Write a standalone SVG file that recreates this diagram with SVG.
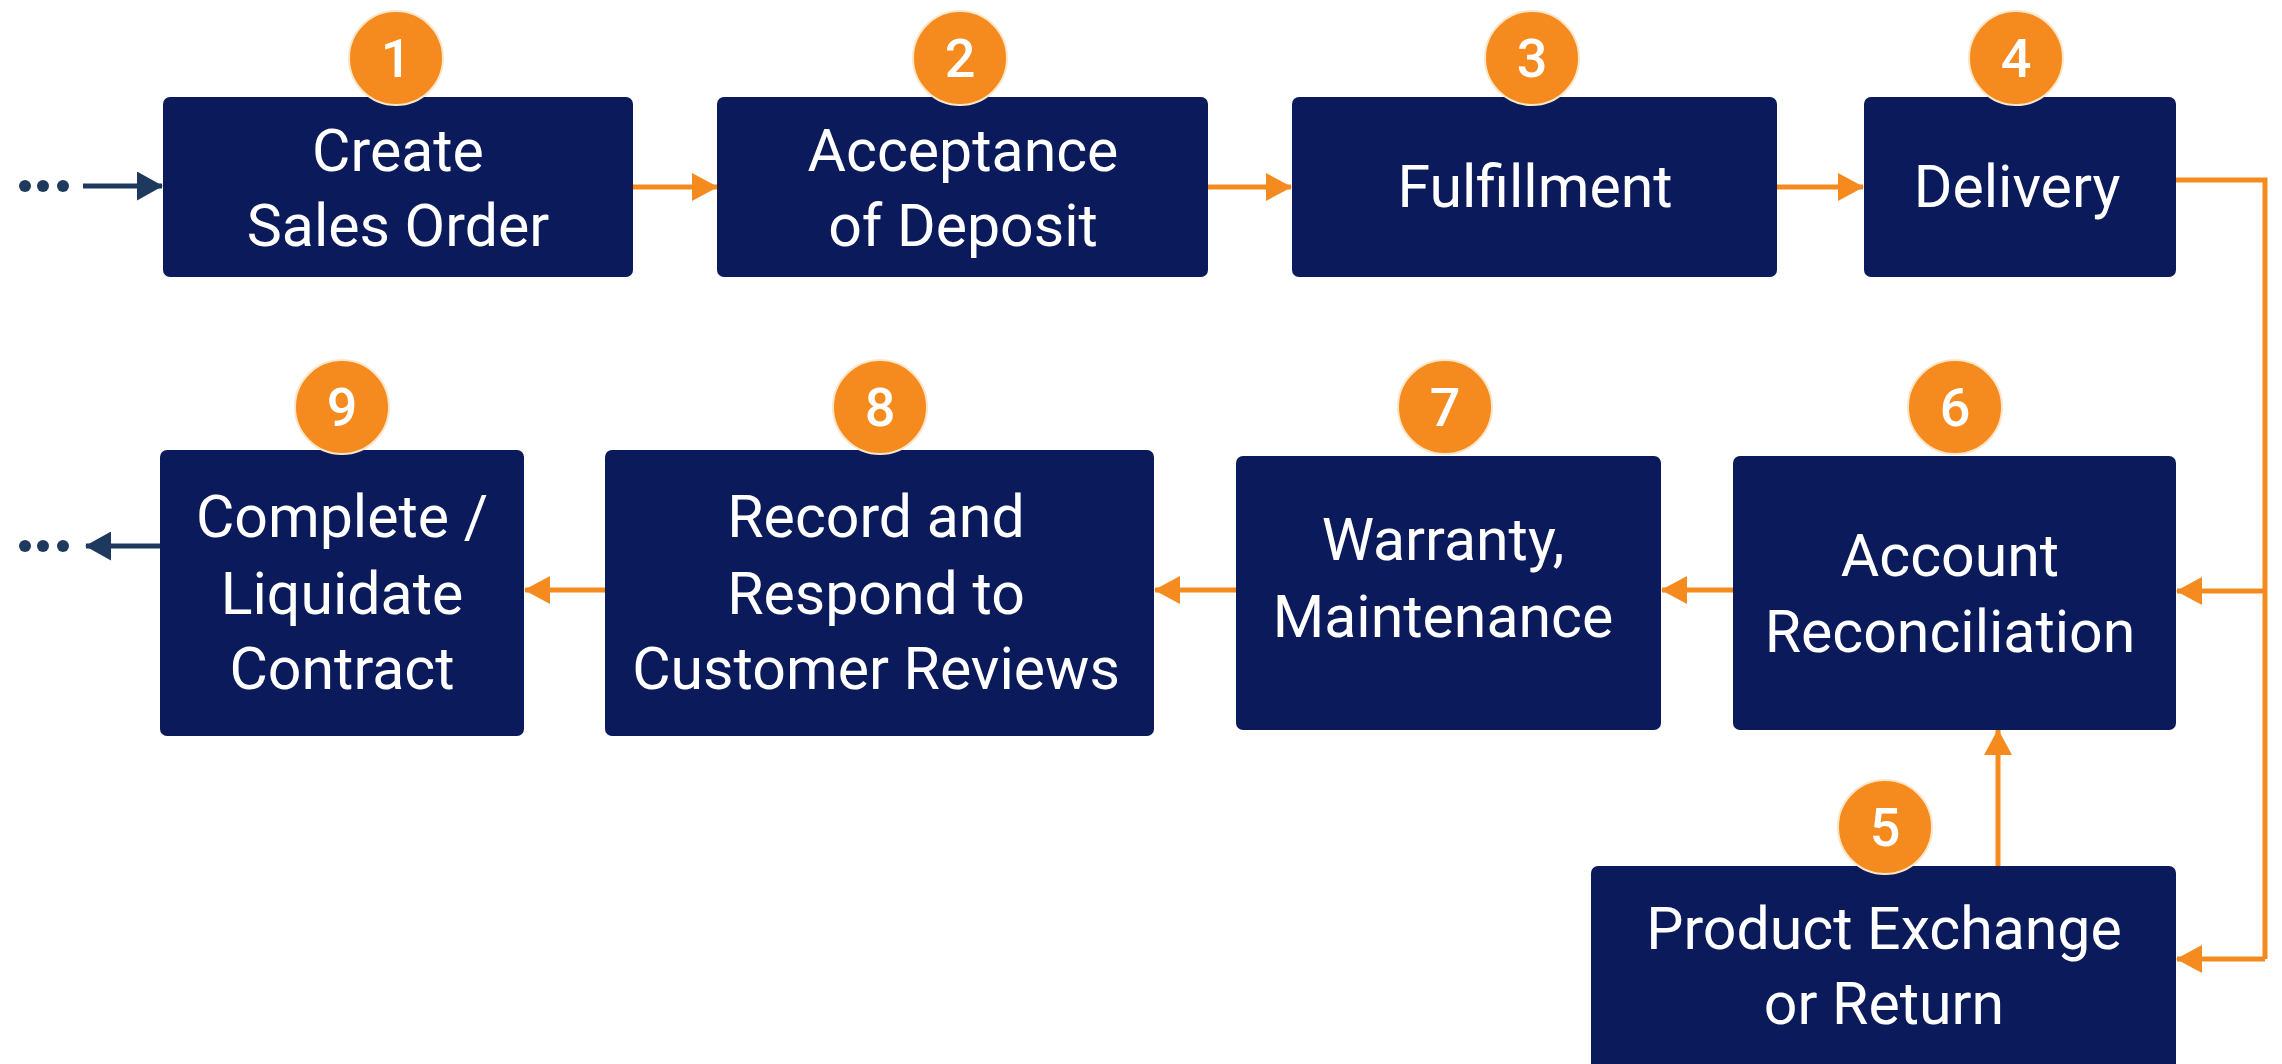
<svg xmlns="http://www.w3.org/2000/svg" width="2282" height="1064" viewBox="0 0 2282 1064">
<style>
.box{fill:#0b1a5b}
.lbl{font-family:Roboto,"Liberation Sans",sans-serif;font-size:59px;fill:#ffffff;text-anchor:middle}
.num{font-family:Roboto,"Liberation Sans",sans-serif;font-size:54px;font-weight:500;fill:#ffffff;text-anchor:middle}
.badge{fill:#f58a1f;stroke:#fde6c8;stroke-width:2}
.o{stroke:#f58a1f;stroke-width:5;fill:none}
.d{stroke:#1d3a5e;stroke-width:5;fill:none}
.dot{fill:#1d3a5e}
</style>
<defs>
<marker id="ao" markerWidth="26" markerHeight="28" refX="25" refY="14" orient="auto" markerUnits="userSpaceOnUse" viewBox="0 0 26 28">
<path d="M0,0 L26,14 L0,28 Z" fill="#f58a1f"/>
</marker>
<marker id="ad" markerWidth="26" markerHeight="29" refX="25" refY="14.5" orient="auto" markerUnits="userSpaceOnUse" viewBox="0 0 26 29">
<path d="M0,0 L26,14.5 L0,29 Z" fill="#1d3a5e"/>
</marker>
</defs>
<g id="connectors">
<circle class="dot" cx="25" cy="186" r="6"/><circle class="dot" cx="43" cy="186" r="6"/><circle class="dot" cx="63" cy="186" r="6"/>
<path class="d" d="M83,186 H162" marker-end="url(#ad)"/>
<path class="o" d="M633,187 H717" marker-end="url(#ao)"/>
<path class="o" d="M1208,187 H1291" marker-end="url(#ao)"/>
<path class="o" d="M1777,187 H1863" marker-end="url(#ao)"/>
<path class="o" d="M2176,180 H2265 V959"/>
<path class="o" d="M2265,591 H2177" marker-end="url(#ao)"/>
<path class="o" d="M2265,959 H2177" marker-end="url(#ao)"/>
<path class="o" d="M1998,866 V730" marker-end="url(#ao)"/>
<path class="o" d="M1733,590 H1662" marker-end="url(#ao)"/>
<path class="o" d="M1236,590 H1155" marker-end="url(#ao)"/>
<path class="o" d="M605,590 H525" marker-end="url(#ao)"/>
<path class="d" d="M160,546 H86" marker-end="url(#ad)"/>
<circle class="dot" cx="25" cy="546" r="6"/><circle class="dot" cx="43" cy="546" r="6"/><circle class="dot" cx="63" cy="546" r="6"/>
</g>
<g id="node1">
<rect class="box" x="163" y="97" width="470" height="180" rx="7"/>
<text class="lbl" x="398" y="171">Create</text>
<text class="lbl" x="398" y="246">Sales Order</text>
<circle class="badge" cx="396" cy="58" r="47"/>
<text class="num" x="396" y="77">1</text>
</g>
<g id="node2">
<rect class="box" x="717" y="97" width="491" height="180" rx="7"/>
<text class="lbl" x="963" y="171">Acceptance</text>
<text class="lbl" x="963" y="246">of Deposit</text>
<circle class="badge" cx="960" cy="58" r="47"/>
<text class="num" x="960" y="77">2</text>
</g>
<g id="node3">
<rect class="box" x="1292" y="97" width="485" height="180" rx="7"/>
<text class="lbl" x="1535" y="207">Fulfillment</text>
<circle class="badge" cx="1532" cy="58" r="47"/>
<text class="num" x="1532" y="77">3</text>
</g>
<g id="node4">
<rect class="box" x="1864" y="97" width="312" height="180" rx="7"/>
<text class="lbl" x="2017" y="207">Delivery</text>
<circle class="badge" cx="2016" cy="58" r="47"/>
<text class="num" x="2016" y="77">4</text>
</g>
<g id="node5">
<rect class="box" x="1591" y="866" width="585" height="210" rx="7"/>
<text class="lbl" x="1884" y="949">Product Exchange</text>
<text class="lbl" x="1884" y="1024">or Return</text>
<circle class="badge" cx="1885" cy="827" r="47"/>
<text class="num" x="1885" y="846">5</text>
</g>
<g id="node6">
<rect class="box" x="1733" y="456" width="443" height="274" rx="7"/>
<text class="lbl" x="1950" y="576">Account</text>
<text class="lbl" x="1950" y="652">Reconciliation</text>
<circle class="badge" cx="1955" cy="407" r="47"/>
<text class="num" x="1955" y="426">6</text>
</g>
<g id="node7">
<rect class="box" x="1236" y="456" width="425" height="274" rx="7"/>
<text class="lbl" x="1443" y="560">Warranty,</text>
<text class="lbl" x="1443" y="637">Maintenance</text>
<circle class="badge" cx="1445" cy="407" r="47"/>
<text class="num" x="1445" y="426">7</text>
</g>
<g id="node8">
<rect class="box" x="605" y="450" width="549" height="286" rx="7"/>
<text class="lbl" x="876" y="537">Record and</text>
<text class="lbl" x="876" y="614">Respond to</text>
<text class="lbl" x="876" y="689">Customer Reviews</text>
<circle class="badge" cx="880" cy="407" r="47"/>
<text class="num" x="880" y="426">8</text>
</g>
<g id="node9">
<rect class="box" x="160" y="450" width="364" height="286" rx="7"/>
<text class="lbl" x="342" y="537">Complete /</text>
<text class="lbl" x="342" y="614">Liquidate</text>
<text class="lbl" x="342" y="689">Contract</text>
<circle class="badge" cx="342" cy="407" r="47"/>
<text class="num" x="342" y="426">9</text>
</g>
</svg>
